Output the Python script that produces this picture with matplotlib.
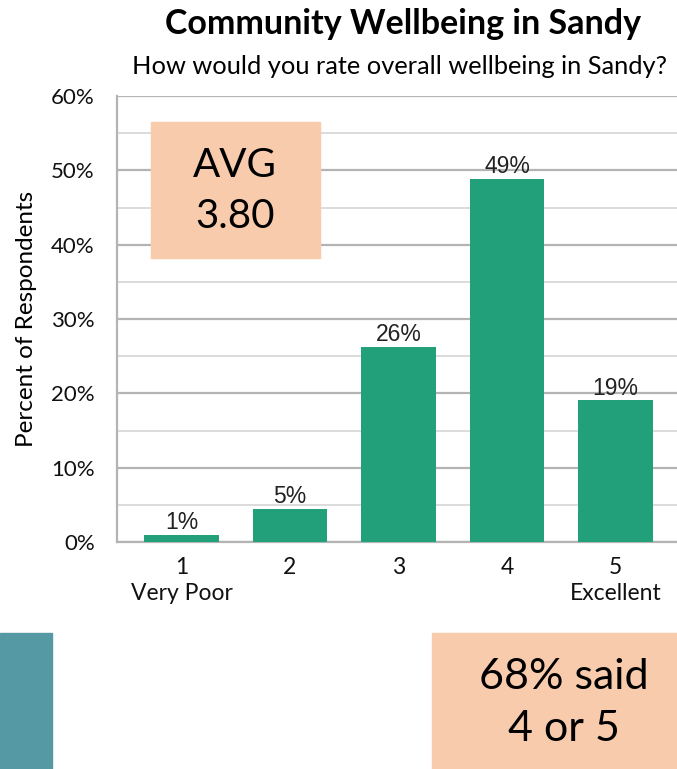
import matplotlib
matplotlib.use("Agg")
import matplotlib.pyplot as plt
from matplotlib.patches import Rectangle
from matplotlib.ticker import MultipleLocator, FuncFormatter

# Ratings 1-5, share of respondents (%)
categories = ["1\nVery Poor", "2", "3", "4", "5\nExcellent"]
percents = [1.0, 4.5, 26.3, 48.9, 19.1]
bar_labels = ["1%", "5%", "26%", "49%", "19%"]
avg_text = "AVG\n3.80"
top2_text = "68% said\n4 or 5"

W, H = 677, 769
fig = plt.figure(figsize=(W / 100, H / 100), dpi=100)

def px(x0, y0, x1, y1):
    # pixel box (top-left origin) -> figure fraction
    return [x0 / W, 1 - y1 / H, (x1 - x0) / W, (y1 - y0) / H]

ax = fig.add_axes(px(117, 96, 680, 542))

green = "#21A07A"
xs = range(len(categories))
ax.bar(xs, percents, width=0.69, color=green, zorder=3)
for x, v, lab in zip(xs, percents, bar_labels):
    ax.text(x, v + 0.05, lab, ha="center", va="bottom", fontsize=16.5,
            family="Liberation Sans", color="#222222", zorder=4)

ax.set_xlim(-0.594, 4.594)
ax.set_ylim(0, 60)
ax.yaxis.set_major_locator(MultipleLocator(10))
ax.yaxis.set_minor_locator(MultipleLocator(5))
ax.yaxis.set_major_formatter(FuncFormatter(lambda v, p: f"{v:.0f}%"))
ax.grid(axis="y", which="major", color="#b4b4b4", linewidth=1.6, zorder=0)
ax.grid(axis="y", which="minor", color="#dcdcdc", linewidth=1.4, zorder=0)
ax.set_xticks(list(xs))
ax.set_xticklabels(categories, family="Lato", fontsize=16.5, linespacing=1.3)
for t in ax.get_yticklabels():
    t.set_family("Lato")
    t.set_fontsize(16)
ax.tick_params(axis="both", which="both", length=0, colors="#111111")
ax.tick_params(axis="x", pad=11)
ax.tick_params(axis="y", pad=16)
for s in ["top", "right"]:
    ax.spines[s].set_visible(False)
for s in ["left", "bottom"]:
    ax.spines[s].set_color("#b4b4b4")
    ax.spines[s].set_linewidth(1.6)
ax.set_ylabel("Percent of Respondents", family="Lato", fontsize=17.5, labelpad=10)

fig.text(403 / W, 1 - 24 / H, "Community Wellbeing in Sandy", ha="center", va="center",
         family="Lato", fontweight="bold", fontsize=24.5)
fig.text(400 / W, 1 - 66 / H, "How would you rate overall wellbeing in Sandy?", ha="center",
         va="center", family="Lato", fontsize=18.3)

peach = "#F8CBAD"
# AVG box
fig.add_artist(Rectangle(px(151, 122, 320, 258)[:2], 169 / W, 136 / H,
                         transform=fig.transFigure, color=peach, zorder=5))
fig.text(235 / W, 1 - 191 / H, avg_text, ha="center", va="center", family="Lato",
         fontsize=29, linespacing=1.45, zorder=6)

# bottom boxes
fig.add_artist(Rectangle(px(0, 633, 52, 769)[:2], 52 / W, 136 / H,
                         transform=fig.transFigure, color="#5499A3", zorder=5))
fig.add_artist(Rectangle(px(432, 633, 677, 769)[:2], 245 / W, 136 / H,
                         transform=fig.transFigure, color=peach, zorder=5))
fig.text(564 / W, 1 - 703 / H, top2_text, ha="center", va="center", family="Lato",
         fontsize=31, linespacing=1.45, zorder=6)

fig.savefig("out.png", dpi=100)
